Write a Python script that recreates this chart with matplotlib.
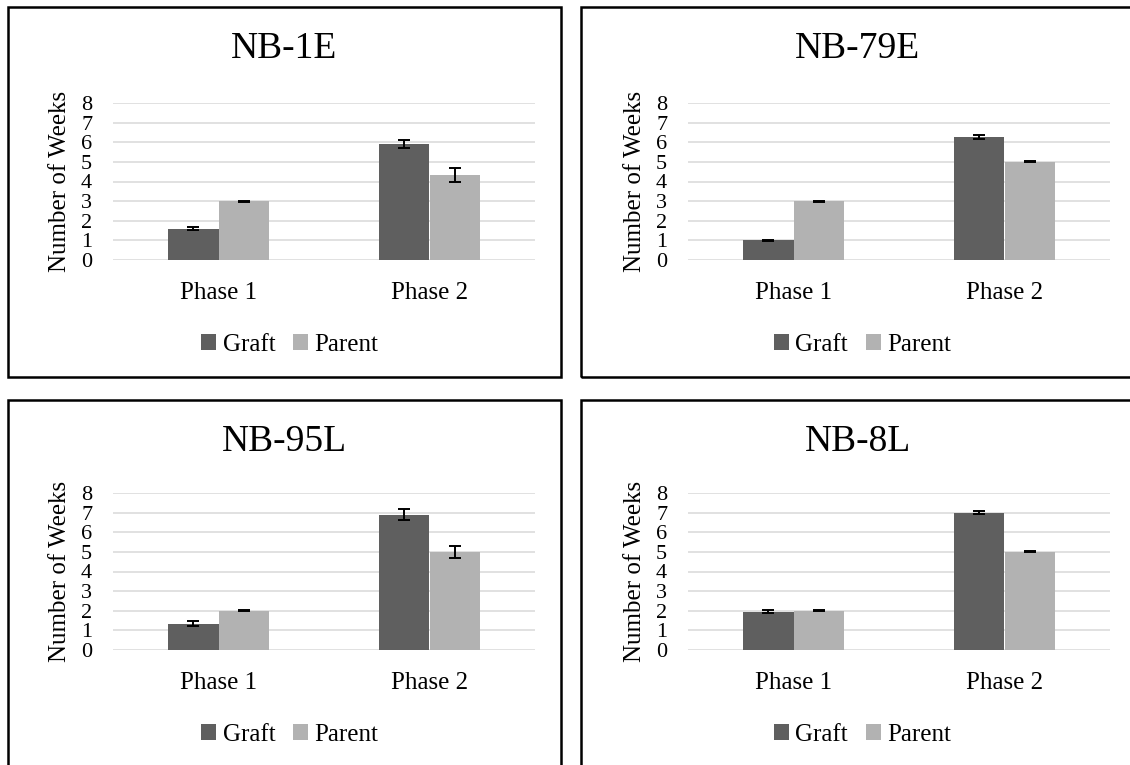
import matplotlib
matplotlib.use("Agg")
import matplotlib.pyplot as plt
import numpy as np
from matplotlib.patches import Rectangle

plt.rcParams["font.family"] = ["Liberation Serif", "DejaVu Serif"]

phases = ["Phase 1", "Phase 2"]
series = ["Graft", "Parent"]
titles = ["NB-1E", "NB-79E", "NB-95L", "NB-8L"]

graft = [[1.6, 5.93], [1.0, 6.27], [1.35, 6.9], [1.95, 7.0]]
graft_err = [[0.07, 0.2], [0.03, 0.12], [0.12, 0.26], [0.08, 0.07]]
parent = [[3.0, 4.35], [3.0, 5.0], [2.0, 5.0], [2.0, 5.0]]
parent_err = [[0.02, 0.36], [0.02, 0.02], [0.02, 0.32], [0.02, 0.02]]

yticks = list(range(0, 9))

GRAFT_COLOR = "#5f5f5f"
PARENT_COLOR = "#b2b2b2"
GRID_COLOR = "#d9d9d9"

W, H = 1130, 765
fig = plt.figure(figsize=(W / 100, H / 100), dpi=100)

# panel frames in pixels (left, top, right, bottom); right/bottom ones run off the canvas
boxes = [(8, 7, 561, 377), (581, 7, 1134, 377), (8, 400, 561, 770), (581, 400, 1134, 770)]
# plot areas in pixels (left, top, right, bottom)
axes_px = [(113, 103, 535, 260), (688, 103, 1110, 260), (113, 493, 535, 650), (688, 493, 1110, 650)]


def fx(px):
    return px / W


def fy(py):
    return 1 - py / H


for i in range(4):
    bx0, by0, bx1, by1 = boxes[i]
    fig.patches.append(Rectangle((fx(bx0), fy(by1)), fx(bx1 - bx0), (by1 - by0) / H,
                                 transform=fig.transFigure, fill=False, edgecolor="black",
                                 linewidth=1.8, clip_on=False))

    l, t, r, b = axes_px[i]
    ax = fig.add_axes([fx(l), fy(b), fx(r - l), (b - t) / H])
    x = np.arange(len(phases))
    w = 0.237
    ekw = dict(ecolor="black", elinewidth=1.4, capsize=4.6, capthick=1.4)
    ax.bar(x - w / 2, graft[i], w, color=GRAFT_COLOR, yerr=graft_err[i], error_kw=ekw, zorder=3)
    ax.bar(x + w / 2, parent[i], w, color=PARENT_COLOR, yerr=parent_err[i], error_kw=ekw, zorder=3)

    ax.set_xlim(-0.5, 1.5)
    ax.set_ylim(0, 8)
    ax.set_yticks(yticks)
    ax.set_xticks(x)
    ax.set_xticklabels(phases, fontsize=18)
    ax.tick_params(axis="y", labelsize=16, length=0, pad=15)
    ax.tick_params(axis="x", length=0, pad=16)
    ax.grid(axis="y", color=GRID_COLOR, linewidth=1.1, zorder=0)
    for s in ax.spines.values():
        s.set_visible(False)
    ax.set_ylabel("Number of Weeks", fontsize=18, labelpad=7)

    cx = (bx0 + bx1) / 2
    fig.text(fx(cx), fy(by0 + 42), titles[i], fontsize=27, ha="center", va="center")
    handles = [Rectangle((0, 0), 1, 1, facecolor=GRAFT_COLOR),
               Rectangle((0, 0), 1, 1, facecolor=PARENT_COLOR)]
    fig.legend(handles=handles, labels=series, loc="center",
               bbox_to_anchor=(fx(cx + 5), fy(b + 85)),
               ncol=2, frameon=False, fontsize=18,
               handlelength=0.6, handleheight=0.6, handletextpad=0.25, columnspacing=0.7)

fig.savefig("out.png", dpi=100)
